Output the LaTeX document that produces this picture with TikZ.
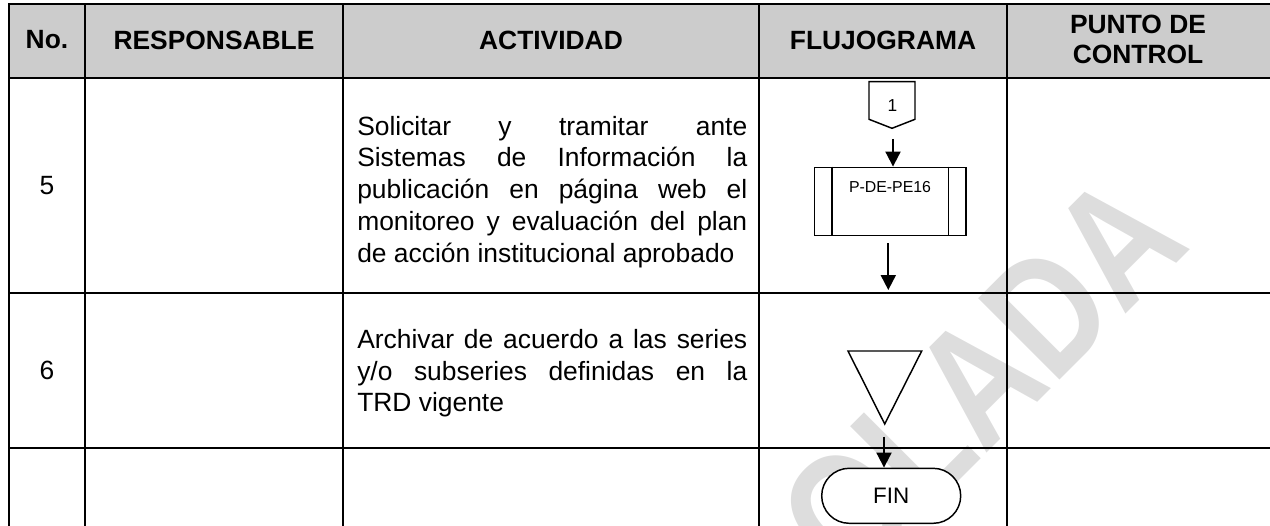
\documentclass[tikz,border=0pt]{standalone}
\usepackage{fontspec}
\setmainfont{Liberation Sans}
\usetikzlibrary{arrows.meta,shapes.misc}
\definecolor{hdrgray}{RGB}{204,204,204}
\definecolor{wmgray}{RGB}{221,221,221}
\begin{document}
\begin{tikzpicture}[x=0.75pt,y=-0.75pt,
  grid/.style={line width=1.6pt},
  hdr/.style={font=\fontsize{19.8}{22.5}\selectfont\bfseries, inner sep=0},
  body/.style={font=\fontsize{19.8}{23.8}\selectfont, inner sep=0, anchor=base west},
  shp/.style={draw, line width=1.1pt, fill=white},
  flow/.style={line width=1.5pt, -{Triangle[width=11.25pt,length=11.25pt]}},
  wmark/.style={font=\fontsize{102}{102}\selectfont\bfseries, text=wmgray, inner sep=0}
]
\useasboundingbox (0,0) rectangle (1270,525);
\clip (0,0) rectangle (1270,525);
% header background
\fill[hdrgray] (9,4) rectangle (1271,78);
% watermark
\node[wmark, rotate=45, anchor=base east] (wm) at (1193,247) {\scalebox{1}[1.23]{OLADA}};
% table grid
\draw[grid] (9,530) -- (9,4) -- (1271,4);
\draw[grid] (9,78) -- (1271,78);
\draw[grid] (9,293) -- (1271,293);
\draw[grid] (9,448) -- (1271,448);
\foreach \xx in {85,343,759,1007} \draw[grid] (\xx,4) -- (\xx,530);
% header texts
\node[hdr] (hno) at (47,40) {No.};
\node[hdr] (hresp) at (214,40) {RESPONSABLE};
\node[hdr] (hact) at (551,40) {ACTIVIDAD};
\node[hdr] (hflu) at (883,40) {FLUJOGRAMA};
\node[hdr, align=center] (hpc) at (1138,39) {PUNTO DE\\CONTROL};
% row 5
\node[body, anchor=center] (n5) at (47,186) {5};
\node[body] (a5a) at (357,135) {\makebox[292.5pt][s]{Solicitar y tramitar ante}};
\node[body] (a5b) at (357,166.75) {\makebox[292.5pt][s]{Sistemas de Información la}};
\node[body] (a5c) at (357,198.5) {\makebox[292.5pt][s]{publicación en página web el}};
\node[body] (a5d) at (357,230.25) {\makebox[292.5pt][s]{monitoreo y evaluación del plan}};
\node[body] (a5e) at (357,262) {de acción institucional aprobado};
% row 6
\node[body, anchor=center] (n6) at (47,370) {6};
\node[body] (a6a) at (357,348) {\makebox[292.5pt][s]{Archivar de acuerdo a las series}};
\node[body] (a6b) at (357,380) {\makebox[292.5pt][s]{y/o subseries definidas en la}};
\node[body] (a6c) at (357,411) {TRD vigente};
% flowchart: off-page connector
\draw[shp] (869,81.7) -- (915,81.7) -- (915,119.3) -- (892,128.3) -- (869,119.3) -- cycle;
\node[font=\fontsize{13}{13}\selectfont, inner sep=0] (c1) at (892.5,106) {1};
\coordinate (c1tip) at (893,128.3);
% predefined process
\node[shp, minimum width=113.5pt, minimum height=51pt, inner sep=0] (proc) at (890.3,201.3) {};
\draw[line width=1.1pt] ([xshift=13.6pt]proc.north west) -- ([xshift=13.6pt]proc.south west);
\draw[line width=1.1pt] ([xshift=-13.6pt]proc.north east) -- ([xshift=-13.6pt]proc.south east);
\node[font=\fontsize{11.9}{12}\selectfont, inner sep=0] (ptext) at (890,187.5) {P-DE-PE16};
% archive triangle
\draw[shp] (848,351) -- (921.7,351) -- (884.7,424) -- cycle;
\coordinate (triapex) at (884,424);
% terminator
\node[shp, rounded rectangle, minimum width=104.25pt, minimum height=41.25pt, inner sep=0,
      font=\fontsize{16.8}{17}\selectfont] (fin) at (891.2,495.8) {FIN};
% arrows
\draw[flow] ([yshift=-8pt]c1tip) -- (c1tip |- proc.north);
\coordinate (a2end) at (888.3,290);
\draw[flow] (proc.south -| a2end) ++(0,7.4) -- (a2end);
\draw[flow] ([yshift=-9.5pt]triapex) -- (triapex |- fin.north);
\end{tikzpicture}
\end{document}
